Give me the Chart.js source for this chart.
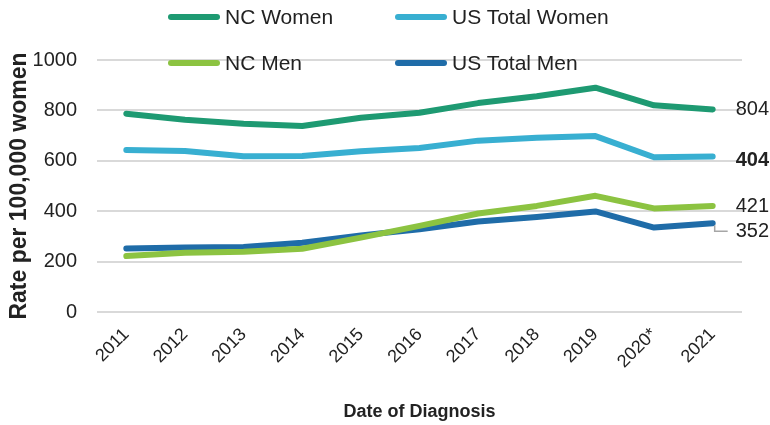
<!DOCTYPE html>
<html>
<head>
<meta charset="utf-8">
<script src="https://cdn.jsdelivr.net/npm/chart.js@4/dist/chart.umd.min.js"></script>
<style>
    body { margin: 0; background: #fff; }
    #contenedor { position: relative; width: 770px; height: 425px; }
    #leyenda {
        position: absolute; left: 168px; top: 5px;
        display: grid; grid-template-columns: 227px 230px; row-gap: 22px;
        font-family: 'Liberation Sans', Arial, sans-serif; font-size: 21px; color: #222;
    }
    .item { display: flex; align-items: center; height: 24px; white-space: nowrap; }
    .linea { width: 52px; height: 6px; border-radius: 3px; margin-right: 5px; }
</style>
</head>
<body>
<div id="contenedor">
    <canvas id="grafica" width="770" height="425"></canvas>
    <div id="leyenda"></div>
</div>
<script>
// Datos de la gráfica
const anios = ['2011', '2012', '2013', '2014', '2015', '2016', '2017', '2018', '2019', '2020*', '2021'];
const ncMujeres = [787, 763, 747, 738, 771, 791, 829, 856, 890, 820, 804];
const usMujeres = [643, 639, 618, 619, 638, 651, 680, 691, 698, 614, 617];
const ncHombres = [222, 235, 239, 251, 295, 342, 391, 421, 461, 411, 421];
const usHombres = [252, 256, 258, 275, 304, 328, 359, 377, 399, 335, 352];
const nombresSeries = ['NC Women', 'US Total Women', 'NC Men', 'US Total Men'];
const etiquetasFinales = ['804', '404', '421', '352'];
const ticksY = [0, 200, 400, 600, 800, 1000];

const colores = ['#1e9a72', '#38afd1', '#8cc341', '#1f6ca8'];
const fuente = "'Liberation Sans', Arial, sans-serif";

const series = [ncMujeres, usMujeres, ncHombres, usHombres];

// Leyenda en dos columnas
const leyendaDiv = document.getElementById('leyenda');
nombresSeries.forEach((nombre, i) => {
    leyendaDiv.innerHTML += `<div class="item"><span class="linea" style="background:${colores[i]}"></span>${nombre}</div>`;
});

// Etiquetas al final de cada línea
const pluginEtiquetas = {
    id: 'etiquetasFinales',
    afterDatasetsDraw(chart) {
        const ctx = chart.ctx;
        const desplazamientos = [0, 4, 1, 8];
        ctx.save();
        ctx.textBaseline = 'middle';
        ctx.textAlign = 'left';
        chart.data.datasets.forEach((ds, i) => {
            const meta = chart.getDatasetMeta(i);
            const punto = meta.data[meta.data.length - 1];
            const y = punto.y + desplazamientos[i];
            ctx.fillStyle = '#222';
            ctx.font = (i === 1 ? 'bold ' : '') + '20px ' + fuente;
            ctx.fillText(etiquetasFinales[i], punto.x + 23, y);
            if (i === 3) {
                // línea guía para 352
                ctx.strokeStyle = '#a6a6a6';
                ctx.lineWidth = 1.5;
                ctx.beginPath();
                ctx.moveTo(punto.x + 2, punto.y + 2);
                ctx.lineTo(punto.x + 2, y);
                ctx.lineTo(punto.x + 15, y);
                ctx.stroke();
            }
        });
        ctx.restore();
    }
};

const ctx = document.getElementById('grafica').getContext('2d');
new Chart(ctx, {
    type: 'line',
    data: {
        labels: anios,
        datasets: series.map((valores, i) => ({
            label: nombresSeries[i],
            data: valores,
            borderColor: colores[i],
            backgroundColor: colores[i],
            borderWidth: 6,
            borderCapStyle: 'round',
            borderJoinStyle: 'round',
            pointRadius: 0,
            tension: 0
        }))
    },
    options: {
        responsive: false,
        animation: false,
        layout: { padding: { top: 60, right: 28, left: 0, bottom: 0 } },
        plugins: {
            legend: { display: false },
            tooltip: { enabled: false }
        },
        scales: {
            x: {
                offset: true,
                grid: { display: false },
                border: { display: false },
                ticks: {
                    color: '#222',
                    font: { family: fuente, size: 18 },
                    minRotation: 45,
                    maxRotation: 45,
                    padding: 4
                },
                title: {
                    display: true,
                    text: 'Date of Diagnosis',
                    color: '#222',
                    font: { family: fuente, size: 18, weight: 'bold' },
                    padding: { top: 4, bottom: 2 }
                },
                afterFit: (escala) => { escala.height = 113; }
            },
            y: {
                min: 0,
                max: 1000,
                afterBuildTicks: (escala) => { escala.ticks = ticksY.map(v => ({ value: v })); },
                grid: { color: '#d9d9d9', lineWidth: 2, drawTicks: false },
                border: { display: false },
                ticks: {
                    color: '#222',
                    font: { family: fuente, size: 20 },
                    padding: 20,
                    callback: (valor) => String(valor)
                },
                title: {
                    display: true,
                    text: 'Rate per 100,000 women',
                    color: '#222',
                    font: { family: fuente, size: 23, weight: 'bold' },
                    padding: { top: 6, bottom: 0 }
                },
                afterFit: (escala) => { escala.width = 97; }
            }
        }
    },
    plugins: [pluginEtiquetas]
});
</script>
</body>
</html>
